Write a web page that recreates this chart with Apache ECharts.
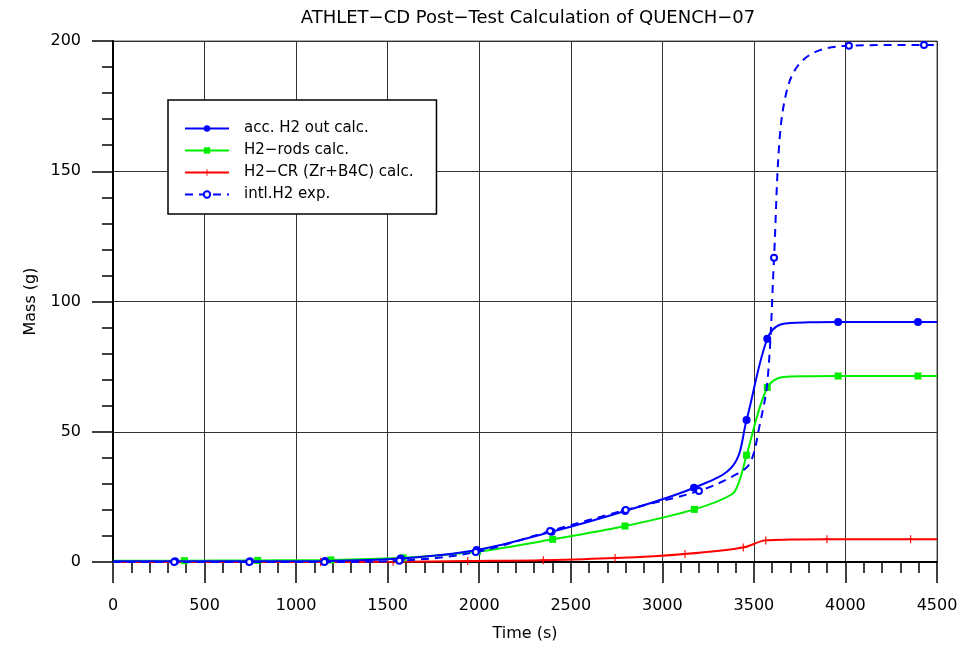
<!DOCTYPE html>
<html>
<head>
<meta charset="utf-8">
<script src="https://cdn.jsdelivr.net/npm/echarts@6/dist/echarts.min.js"></script>
<style>html,body{margin:0;padding:0;background:#fff}#c{width:968px;height:648px}</style>
</head>
<body>
<div id="c"></div>
<script>
// ---- data ----
var titleText = 'ATHLET\u2212CD Post\u2212Test Calculation of QUENCH\u221207';
var xTicks = [0, 500, 1000, 1500, 2000, 2500, 3000, 3500, 4000, 4500];
var yTicks = [0, 50, 100, 150, 200];
var seriesNames = ['acc. H2 out calc.', 'H2\u2212rods calc.', 'H2\u2212CR (Zr+B4C) calc.', 'intl.H2 exp.'];

var outTime = [0, 339, 748, 1158, 1570, 1986, 2395, 2796, 3173, 3386, 3460, 3573, 3650, 3800, 3960, 4396, 4500];
var outMass = [0.3, 0.3, 0.3, 0.4, 1.3, 4.6, 11.6, 19.6, 28.5, 37.0, 54.5, 85.7, 91.3, 92.0, 92.1, 92.1, 92.1];
var outMarks = [339, 748, 1158, 1570, 1986, 2395, 2796, 3173, 3460, 3573, 3960, 4396];

var rodTime = [0, 390, 790, 1190, 1584, 1990, 2401, 2796, 3175, 3380, 3420, 3460, 3573, 3660, 3800, 3960, 4396, 4500];
var rodMass = [0.5, 0.5, 0.6, 0.8, 1.6, 4.0, 8.7, 13.8, 20.2, 26.0, 31.0, 41.0, 67.0, 71.0, 71.3, 71.4, 71.4, 71.4];
var rodMarks = [390, 790, 1190, 1584, 1990, 2401, 2796, 3175, 3460, 3573, 3960, 4396];

var crTime = [0, 1134, 1530, 1937, 2350, 2742, 3124, 3442, 3565, 3700, 3899, 4356, 4500];
var crMass = [0.0, 0.0, 0.1, 0.4, 0.7, 1.5, 3.1, 5.6, 8.3, 8.6, 8.7, 8.7, 8.7];
var crMarks = [1134, 1530, 1937, 2350, 2742, 3124, 3442, 3565, 3899, 4356];

var expTime = [0, 334, 744, 1154, 1564, 1981, 2387, 2800, 3200, 3400, 3479, 3530, 3575, 3610, 3640, 3680, 3740, 3843, 4019, 4429, 4500];
var expMass = [0, 0, 0, 0, 0.5, 3.8, 11.9, 20.0, 27.3, 33.5, 38.0, 52.0, 70.0, 116.8, 162.0, 181.0, 190.5, 196.0, 198.2, 198.5, 198.5];
var expMarks = [334, 744, 1154, 1564, 1981, 2387, 2800, 3200, 3610, 4019, 4429];

function build(t, m, marks) {
  return t.map(function (x, i) {
    var item = { value: [x, m[i]] };
    if (marks.indexOf(x) < 0) item.symbol = 'none';
    return item;
  });
}

var FONT = 'DejaVu Sans';
var plusPath = 'path://M-0.14,-1H0.14V-0.14H1V0.14H0.14V1H-0.14V0.14H-1V-0.14H-0.14Z';

var chart = echarts.init(document.getElementById('c'), null, { renderer: 'canvas' });
chart.setOption({
  animation: false,
  backgroundColor: '#fff',
  title: {
    text: titleText, left: 523, top: 4, textAlign: 'center',
    textStyle: { fontFamily: FONT, fontSize: 18, fontWeight: 'normal', color: '#000' }
  },
  grid: { left: 113, right: 31, top: 41, bottom: 86, show: true, borderColor: '#555', borderWidth: 1 },
  legend: {
    orient: 'vertical', left: 168, top: 100,
    backgroundColor: '#fff', borderColor: '#000', borderWidth: 1.5,
    padding: [21, 23, 12, 16], itemGap: 7, itemWidth: 44, itemHeight: 8,
    textStyle: { fontFamily: FONT, fontSize: 15, lineHeight: 14, color: '#000', padding: [0, 0, 0, 10] },
    data: seriesNames
  },
  xAxis: {
    type: 'value', min: 0, max: 4500, interval: 500,
    name: 'Time (s)', nameLocation: 'middle', nameGap: 64,
    nameTextStyle: { fontFamily: FONT, fontSize: 16, color: '#000' },
    axisLine: { show: true, onZero: false, lineStyle: { color: '#000', width: 2 } },
    axisTick: { show: true, inside: false, length: 21, lineStyle: { color: '#000', width: 1.5 } },
    minorTick: { show: true, splitNumber: 5, length: 11, lineStyle: { color: '#000', width: 1.5 } },
    axisLabel: { fontFamily: FONT, fontSize: 16, color: '#000', margin: 36,
      formatter: function (v) { return xTicks.indexOf(v) >= 0 ? String(v) : ''; } },
    splitLine: { show: true, lineStyle: { color: '#333', width: 1 } }
  },
  yAxis: {
    type: 'value', min: 0, max: 200, interval: 50,
    name: 'Mass (g)', nameLocation: 'middle', nameGap: 74,
    nameTextStyle: { fontFamily: FONT, fontSize: 16, color: '#000' },
    axisLine: { show: true, lineStyle: { color: '#000', width: 2 } },
    axisTick: { show: true, inside: false, length: 21, lineStyle: { color: '#000', width: 1.5 } },
    minorTick: { show: true, splitNumber: 5, length: 11, lineStyle: { color: '#000', width: 1.5 } },
    axisLabel: { fontFamily: FONT, fontSize: 16, color: '#000', margin: 32,
      formatter: function (v) { return yTicks.indexOf(v) >= 0 ? String(v) : ''; } },
    splitLine: { show: true, lineStyle: { color: '#333', width: 1 } }
  },
  series: [
    {
      name: seriesNames[0], type: 'line', data: build(outTime, outMass, outMarks),
      smooth: 0.35, symbol: 'circle', symbolSize: 8, showSymbol: true,
      lineStyle: { color: '#0000ff', width: 2 }, itemStyle: { color: '#0000ff' }, z: 3
    },
    {
      name: seriesNames[1], type: 'line', data: build(rodTime, rodMass, rodMarks),
      smooth: 0.35, symbol: 'rect', symbolSize: 7, showSymbol: true,
      lineStyle: { color: '#00ee00', width: 2 }, itemStyle: { color: '#00ee00' }, z: 2
    },
    {
      name: seriesNames[2], type: 'line', data: build(crTime, crMass, crMarks),
      smooth: 0.35, symbol: plusPath, symbolSize: 8, showSymbol: true,
      lineStyle: { color: '#ff0000', width: 2 }, itemStyle: { color: '#ff0000' }, z: 2
    },
    {
      name: seriesNames[3], type: 'line', data: build(expTime, expMass, expMarks),
      smooth: 0.35, symbol: 'emptyCircle', symbolSize: 6, showSymbol: true,
      lineStyle: { color: '#0000ff', width: 2, type: [8, 6] },
      itemStyle: { color: '#0000ff', borderColor: '#0000ff', borderWidth: 1.6 }, z: 4
    }
  ]
});
</script>
</body>
</html>
